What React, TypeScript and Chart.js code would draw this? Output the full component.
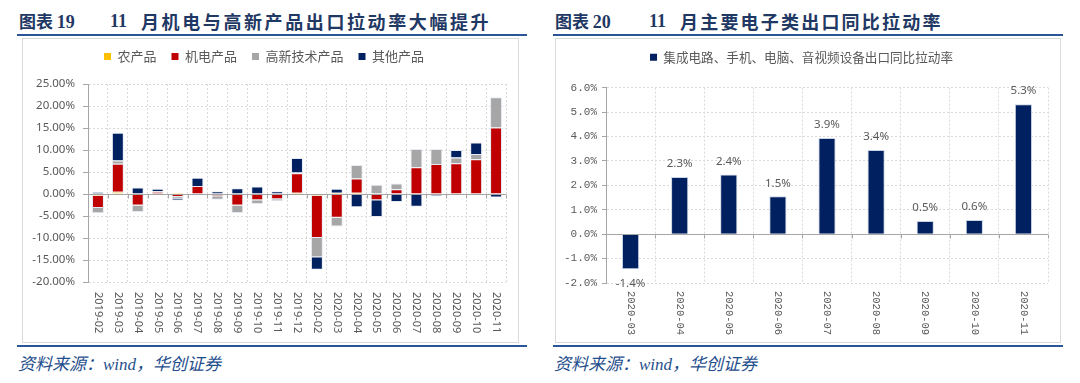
import React, { useEffect, useRef } from "react";
import { Chart, registerables } from "chart.js";

Chart.register(...registerables);

// ---------- Data: chart 19 (left) ----------
const monthsA = [
  "2019-02", "2019-03", "2019-04", "2019-05", "2019-06", "2019-07", "2019-08",
  "2019-09", "2019-10", "2019-11", "2019-12", "2020-02", "2020-03", "2020-04",
  "2020-05", "2020-06", "2020-07", "2020-08", "2020-09", "2020-10", "2020-11",
];
const agriPull = [-0.4, 0.5, -0.1, 0.1, 0.3, 0.1, 0, -0.1, 0, 0, 0.3, -0.4, 0.3, 0.3, 0, 0.1, 0, 0, 0, 0, 0];
const mechPull = [-2.8, 6.4, -2.5, 0.4, -0.7, 1.7, -0.5, -2.5, -1.4, -1.2, 4.4, -9.6, -5.4, 3.2, -1.4, 1.0, 6.1, 6.8, 7.0, 7.9, 15.1];
const hitechPull = [-1.2, 0.7, -1.5, 0.1, -0.3, -0.3, -0.8, -1.7, -0.9, -0.4, 0.2, -4.4, -2.0, 3.1, 2.1, 1.3, 4.1, 3.4, 1.3, 1.2, 6.9];
const otherPull = [0.4, 6.3, 1.5, 0.6, -0.5, 1.9, 0.6, 1.3, 1.7, 0.6, 3.3, -2.8, 0.9, -3.0, -3.8, -1.8, -2.9, -0.5, 1.7, 2.6, -0.8];
const seriesNamesA = ["农产品", "机电产品", "高新技术产品", "其他产品"];
const yMinA = -20;
const yMaxA = 25;
const yStepA = 5;

// ---------- Data: chart 20 (right) ----------
const monthsB = ["2020-03", "2020-04", "2020-05", "2020-06", "2020-07", "2020-08", "2020-09", "2020-10", "2020-11"];
const elecPull = [-1.44, 2.34, 2.44, 1.549, 3.94, 3.449, 0.54, 0.58, 5.32];
const seriesNameB = "集成电路、手机、电脑、音视频设备出口同比拉动率";
const yMinB = -2;
const yMaxB = 6;
const yStepB = 1;

const GRAY_TEXT = "#595959";
const AXIS_GRAY = "#a6a6a6";
const GRID_GRAY = "#d9d9d9";
const NAVY = "#002060";
const CJK = '"Noto Sans CJK SC", "Noto Sans", sans-serif';
const TITLE_BLUE = "#1f3864";
const LINE_BLUE = "#2a5597";

const legendGap = (extra: number) => ({
  id: "legendGap",
  beforeInit(chart: any) {
    const legend = chart.legend;
    if (!legend) return;
    const fit = legend.fit;
    legend.fit = function () {
      fit.call(this);
      this.height += extra;
    };
  },
});

const zeroAxis = {
  id: "zeroAxis",
  afterDatasetsDraw(chart: any) {
    const { ctx, chartArea, scales } = chart;
    const x = scales.x;
    const y = scales.y;
    const y0 = Math.round(y.getPixelForValue(0)) + 0.5;
    const n = chart.data.labels.length;
    const w = (chartArea.right - chartArea.left) / n;
    ctx.save();
    ctx.strokeStyle = AXIS_GRAY;
    ctx.lineWidth = 1;
    ctx.beginPath();
    ctx.moveTo(chartArea.left, y0);
    ctx.lineTo(chartArea.right, y0);
    for (let i = 0; i <= n; i++) {
      const px = Math.round(x.getPixelForValue(0) - w / 2 + i * w) + 0.5;
      ctx.moveTo(px, y0);
      ctx.lineTo(px, y0 + 4);
    }
    ctx.stroke();
    ctx.restore();
  },
};

const verticalLabels = (font: string, gap: number) => ({
  id: "verticalLabels",
  afterDraw(chart: any) {
    const { ctx } = chart;
    const x = chart.scales.x;
    const labels = chart.data.labels as string[];
    ctx.save();
    ctx.font = font;
    ctx.fillStyle = GRAY_TEXT;
    ctx.textAlign = "left";
    ctx.textBaseline = "middle";
    labels.forEach((lab, i) => {
      const px = x.getPixelForValue(i);
      ctx.save();
      ctx.translate(px, x.top + gap);
      ctx.rotate(Math.PI / 2);
      ctx.fillText(lab, 0, 0);
      ctx.restore();
    });
    ctx.restore();
  },
});

const valueLabels = {
  id: "valueLabels",
  afterDatasetsDraw(chart: any) {
    const { ctx } = chart;
    const meta = chart.getDatasetMeta(0);
    const vals = chart.data.datasets[0].data as number[];
    ctx.save();
    ctx.font = '11.5px "Noto Sans", sans-serif';
    ctx.fillStyle = GRAY_TEXT;
    ctx.textAlign = "center";
    ctx.textBaseline = "middle";
    meta.data.forEach((el: any, i: number) => {
      const v = vals[i];
      const { x, y } = el.getProps(["x", "y"], true);
      ctx.fillText(`${v.toFixed(1)}%`, x, v >= 0 ? y - 13 : y + 14);
    });
    ctx.restore();
  },
};

const noBorderLegend = (chart: any) =>
  (Chart.defaults as any).plugins.legend.labels
    .generateLabels(chart)
    .map((l: any) => ({ ...l, lineWidth: 0, strokeStyle: "rgba(0,0,0,0)" }));

function yGrid() {
  return {
    color: (c: any) => (c.tick && c.tick.value === 0 ? AXIS_GRAY : GRID_GRAY),
    tickColor: AXIS_GRAY,
    tickLength: 5,
  };
}

function yBorder() {
  return {
    display: true,
    color: AXIS_GRAY,
    dash: (c: any) => (c.type === "tick" && c.tick && c.tick.value !== 0 ? [2, 2] : []),
  };
}

function LeftChart() {
  const ref = useRef<HTMLCanvasElement | null>(null);
  useEffect(() => {
    const colors = ["#FFC000", "#C00000", "#A6A6A6", NAVY];
    const values = [agriPull, mechPull, hitechPull, otherPull];
    const chart = new Chart(ref.current as HTMLCanvasElement, {
      type: "bar",
      data: {
        labels: monthsA,
        datasets: seriesNamesA.map((name, i) => ({
          label: name,
          data: values[i],
          backgroundColor: colors[i],
          borderColor: "#e6ebf3",
          borderWidth: 1,
          barPercentage: 0.6,
          categoryPercentage: 1,
        })),
      },
      options: {
        responsive: true,
        maintainAspectRatio: false,
        animation: false,
        layout: { padding: { left: 0, right: 13, top: 0, bottom: 0 } },
        plugins: {
          legend: {
            position: "top",
            labels: {
              boxWidth: 7,
              boxHeight: 7,
              padding: 15,
              color: GRAY_TEXT,
              font: { size: 13, family: CJK },
              generateLabels: noBorderLegend,
            },
          },
          tooltip: { enabled: false },
        },
        scales: {
          x: {
            stacked: true,
            grid: { offset: true, color: GRID_GRAY, drawTicks: false },
            border: { display: false, dash: [2, 2] },
            ticks: { display: false },
            afterFit: (s: any) => {
              s.height = 61;
            },
          },
          y: {
            stacked: true,
            min: yMinA,
            max: yMaxA,
            ticks: {
              stepSize: yStepA,
              padding: 8,
              color: GRAY_TEXT,
              font: { size: 11.5, family: '"Noto Sans", sans-serif' },
              callback: (v: any) => `${Number(v).toFixed(2)}%`,
            },
            grid: yGrid(),
            border: yBorder(),
            afterFit: (s: any) => {
              s.width = 66;
            },
          },
        },
      } as any,
      plugins: [legendGap(11), zeroAxis, verticalLabels('11px "Noto Sans", sans-serif', 10)],
    });
    return () => chart.destroy();
  }, []);
  return <canvas ref={ref} />;
}

function RightChart() {
  const ref = useRef<HTMLCanvasElement | null>(null);
  useEffect(() => {
    const chart = new Chart(ref.current as HTMLCanvasElement, {
      type: "bar",
      data: {
        labels: monthsB,
        datasets: [
          {
            label: seriesNameB,
            data: elecPull,
            backgroundColor: NAVY,
            borderColor: "#c9d3e3",
            borderWidth: 1,
            barPercentage: 0.35,
            categoryPercentage: 1,
          },
        ],
      },
      options: {
        responsive: true,
        maintainAspectRatio: false,
        animation: false,
        layout: { padding: { left: 0, right: 13, top: 0, bottom: 0 } },
        plugins: {
          legend: {
            position: "top",
            labels: {
              boxWidth: 7,
              boxHeight: 7,
              padding: 15,
              color: GRAY_TEXT,
              font: { size: 12.6, family: CJK },
              generateLabels: noBorderLegend,
            },
          },
          tooltip: { enabled: false },
        },
        scales: {
          x: {
            grid: { offset: true, color: GRID_GRAY, drawTicks: false },
            border: { display: false, dash: [2, 2] },
            ticks: { display: false },
            afterFit: (s: any) => {
              s.height = 60;
            },
          },
          y: {
            min: yMinB,
            max: yMaxB,
            ticks: {
              stepSize: yStepB,
              padding: 5,
              color: GRAY_TEXT,
              font: { size: 11, family: '"Liberation Mono", monospace' },
              callback: (v: any) => `${Number(v).toFixed(1)}%`,
            },
            grid: { ...yGrid(), tickLength: 4 },
            border: yBorder(),
            afterFit: (s: any) => {
              s.width = 51;
            },
          },
        },
      } as any,
      plugins: [legendGap(14), zeroAxis, valueLabels, verticalLabels('10.5px "Liberation Mono", monospace', 8)],
    });
    return () => chart.destroy();
  }, []);
  return <canvas ref={ref} />;
}

const abs = (left: number, top: number, extra: React.CSSProperties = {}): React.CSSProperties => ({
  position: "absolute",
  left,
  top,
  ...extra,
});

const titleDigits: React.CSSProperties = {
  fontFamily: '"Liberation Serif", "DejaVu Serif", serif',
  fontWeight: 700,
  fontSize: 18,
};
const titleCjk: React.CSSProperties = {
  fontFamily: CJK,
  fontWeight: 700,
};
const sourceStyle: React.CSSProperties = {
  fontFamily: '"Liberation Serif", "Noto Sans CJK SC", serif',
  fontStyle: "italic",
  fontSize: 17,
  color: "#1f4e8c",
  lineHeight: "22px",
  whiteSpace: "nowrap",
};

function Panel(props: {
  x: number;
  lineWidth: number;
  boxX: number;
  boxW: number;
  num: string;
  numX: number;
  rest: string;
  restX: number;
  spacing: number;
  children: React.ReactNode;
  canvasTop: number;
  canvasH: number;
}) {
  const { x, lineWidth, boxX, boxW, num, numX, rest, restX, spacing, children, canvasTop, canvasH } = props;
  const rowStyle: React.CSSProperties = { lineHeight: "24px", color: TITLE_BLUE, whiteSpace: "nowrap" };
  return (
    <>
      <div style={abs(x + 2, 9, { ...rowStyle, ...titleCjk, fontSize: 17 })}>
        图表 <span style={titleDigits}>{num}</span>
      </div>
      <div style={abs(numX, 9, { ...rowStyle, ...titleDigits })}>11</div>
      <div style={abs(restX, 9, { ...rowStyle, ...titleCjk, fontSize: 18, letterSpacing: spacing })}>{rest}</div>
      <div style={abs(x, 34, { width: lineWidth, height: 2, background: LINE_BLUE })} />
      <div
        style={abs(boxX, 38, {
          width: boxW,
          height: 305,
          border: "1px solid #d9d9d9",
          boxSizing: "border-box",
        })}
      />
      <div style={abs(boxX, canvasTop, { width: boxW, height: canvasH })}>{children}</div>
      <div style={abs(x, 345, { width: lineWidth, height: 2, background: LINE_BLUE })} />
      <div style={abs(x + 1, 354, sourceStyle)}>资料来源：wind，华创证券</div>
    </>
  );
}

export default function App() {
  return (
    <div
      style={{
        position: "absolute",
        left: 0,
        top: 0,
        width: 1080,
        height: 383,
        background: "#ffffff",
        overflow: "hidden",
      }}
    >
      <Panel
        x={17}
        lineWidth={510}
        boxX={22}
        boxW={497}
        num="19"
        numX={110}
        rest="月机电与高新产品出口拉动率大幅提升"
        restX={141}
        spacing={2.6}
        canvasTop={35}
        canvasH={308}
      >
        <LeftChart />
      </Panel>
      <Panel
        x={553}
        lineWidth={510}
        boxX={555}
        boxW={506}
        num="20"
        numX={649}
        rest="月主要电子类出口同比拉动率"
        restX={680}
        spacing={2.2}
        canvasTop={36}
        canvasH={307}
      >
        <RightChart />
      </Panel>
    </div>
  );
}
